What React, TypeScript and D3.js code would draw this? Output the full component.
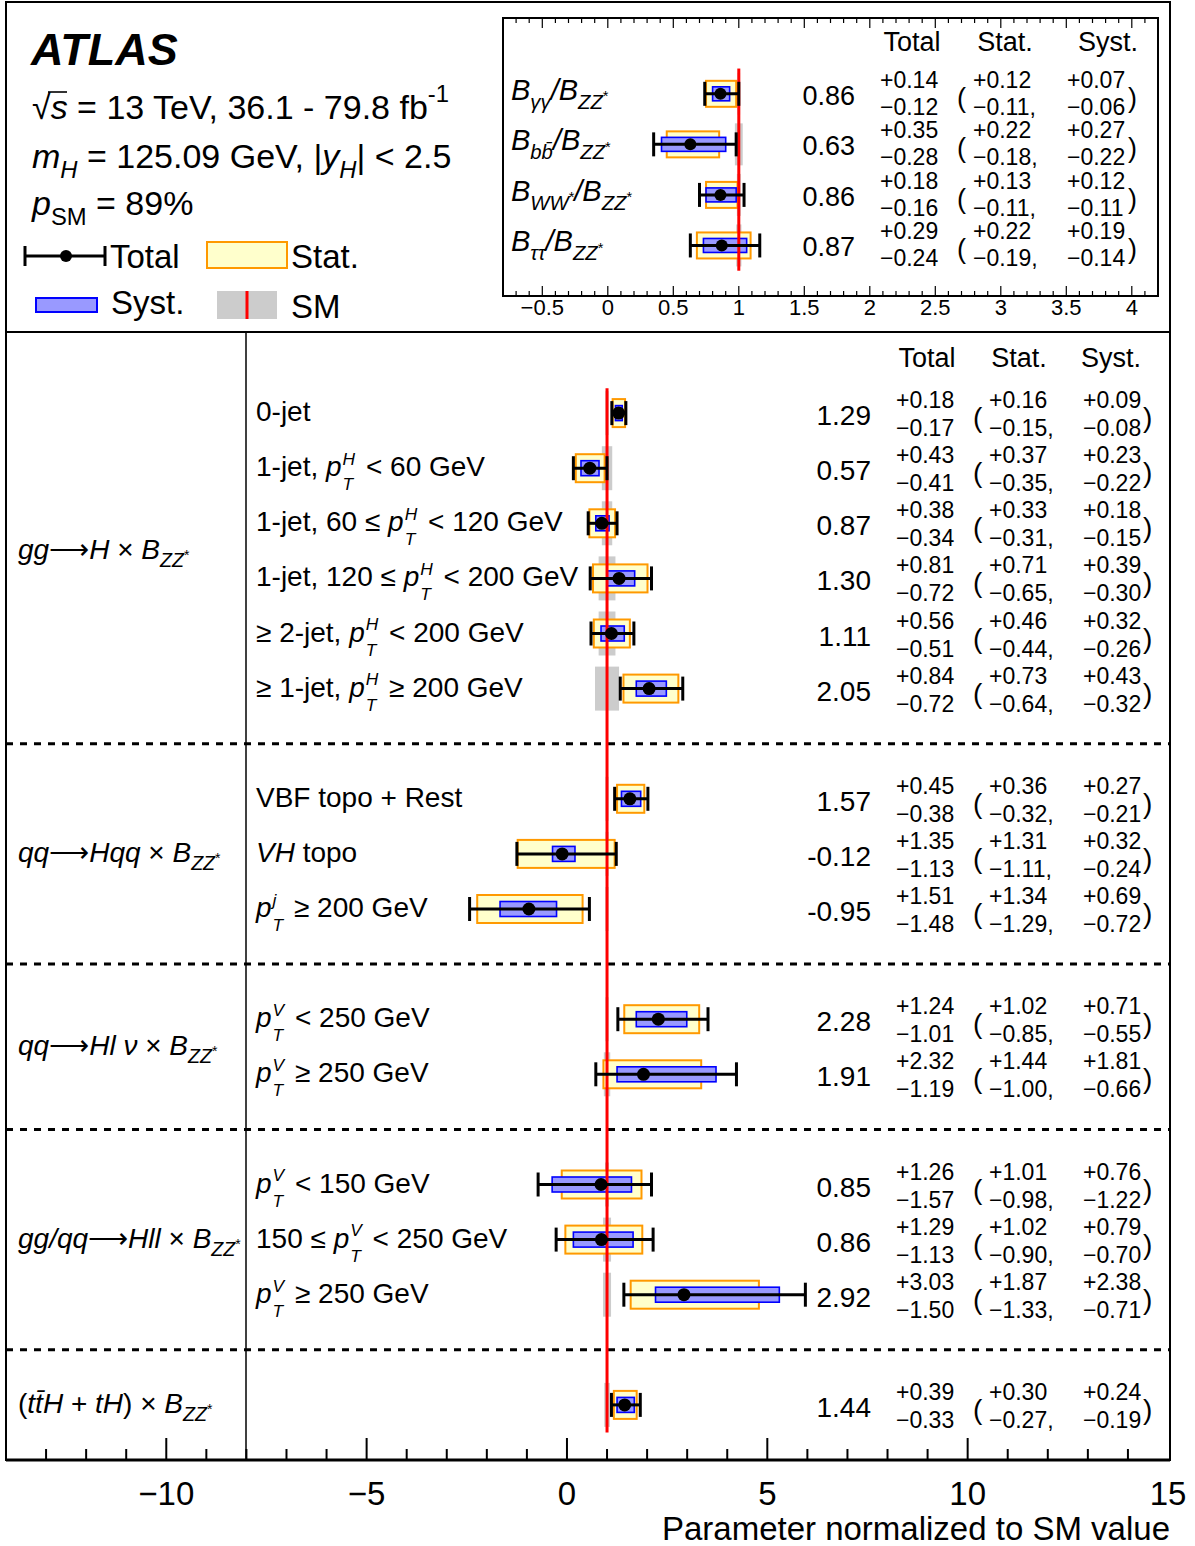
import React from 'react';
import * as d3 from 'd3';

// ---- main panel: production modes x B_ZZ*, normalised to SM ----
const rowLabels = [
  '0-jet',
  '1-jet, $H < 60 GeV',
  '1-jet, 60 ≤ $H < 120 GeV',
  '1-jet, 120 ≤ $H < 200 GeV',
  '≥ 2-jet, $H < 200 GeV',
  '≥ 1-jet, $H ≥ 200 GeV',
  'VBF topo + Rest',
  '~VH~ topo',
  '$j ≥ 200 GeV',
  '$V < 250 GeV',
  '$V ≥ 250 GeV',
  '$V < 150 GeV',
  '150 ≤ $V < 250 GeV',
  '$V ≥ 250 GeV',
  '',
];
const rowSlots = [1, 2, 3, 4, 5, 6, 8, 9, 10, 12, 13, 15, 16, 17, 19];
const centralValue = [1.29, 0.57, 0.87, 1.3, 1.11, 2.05, 1.57, -0.12, -0.95, 2.28, 1.91, 0.85, 0.86, 2.92, 1.44];
const totalUp = [0.18, 0.43, 0.38, 0.81, 0.56, 0.84, 0.45, 1.35, 1.51, 1.24, 2.32, 1.26, 1.29, 3.03, 0.39];
const totalDown = [0.17, 0.41, 0.34, 0.72, 0.51, 0.72, 0.38, 1.13, 1.48, 1.01, 1.19, 1.57, 1.13, 1.5, 0.33];
const statUp = [0.16, 0.37, 0.33, 0.71, 0.46, 0.73, 0.36, 1.31, 1.34, 1.02, 1.44, 1.01, 1.02, 1.87, 0.3];
const statDown = [0.15, 0.35, 0.31, 0.65, 0.44, 0.64, 0.32, 1.11, 1.29, 0.85, 1.0, 0.98, 0.9, 1.33, 0.27];
const systUp = [0.09, 0.23, 0.18, 0.39, 0.32, 0.43, 0.27, 0.32, 0.69, 0.71, 1.81, 0.76, 0.79, 2.38, 0.24];
const systDown = [0.08, 0.22, 0.15, 0.3, 0.26, 0.32, 0.21, 0.24, 0.72, 0.55, 0.66, 1.22, 0.7, 0.71, 0.19];
const smUnc = [0.04, 0.13, 0.13, 0.21, 0.21, 0.3, 0.04, 0.04, 0.04, 0.04, 0.08, 0.05, 0.1, 0.1, 0.07];

const groupLabels = [
  '~gg~⟶~H~ × ~B_{ZZ*}~',
  '~qq~⟶~Hqq~ × ~B_{ZZ*}~',
  '~qq~⟶~Hl ν~ × ~B_{ZZ*}~',
  '~gg/qq~⟶~Hll~ × ~B_{ZZ*}~',
  '(~tt\u0304H~ + ~tH~) × ~B_{ZZ*}~',
];
const groupSlots = [3.5, 9, 12.5, 16, 19];
const separatorSlots = [7, 11, 14, 18];
const mainTickLabels = [-10, -5, 0, 5, 10, 15];

// ---- inset: branching-ratio ratios ----
const ratioLabels = ['~B_{γγ}/B_{ZZ*}~', '~B_{bb\u0304}/B_{ZZ*}~', '~B_{WW*}/B_{ZZ*}~', '~B_{ττ}/B_{ZZ*}~'];
const ratioValue = [0.86, 0.63, 0.86, 0.87];
const ratioTotUp = [0.14, 0.35, 0.18, 0.29];
const ratioTotDown = [0.12, 0.28, 0.16, 0.24];
const ratioStatUp = [0.12, 0.22, 0.13, 0.22];
const ratioStatDown = [0.11, 0.18, 0.11, 0.19];
const ratioSystUp = [0.07, 0.27, 0.12, 0.19];
const ratioSystDown = [0.06, 0.22, 0.11, 0.14];
const ratioSmUnc = [0.01, 0.03, 0.015, 0.02];

const infoLines = ['√~s~ = 13 TeV, 36.1 - 79.8 fb^{-1}', '~m_{H}~ = 125.09 GeV, |~y_{H}~| < 2.5', '~p~_{SM} = 89%'];

const FONT = "'Liberation Sans', Arial, Helvetica, sans-serif";
const YELLOW = '#ffffcc';
const ORANGE = '#ff9900';
const BLUEFILL = '#9999ff';
const BLUE = '#0000ff';
const GREY = '#cccccc';
const RED = '#ff0000';
const glyphW: Record<string, number> = { H: 0.722, V: 0.667, j: 0.222, T: 0.611 };

// tiny markup -> tspans: ~ toggles italic, _{..} sub, ^{..} sup, $X stacked p_T^X
function rich(str: string, fs: number) {
  const parts = str.split(/(_\{[^}]*\}|\^\{[^}]*\}|\$[HVj]|~)/).filter((s) => s !== '');
  const out: React.ReactNode[] = [];
  let italic = false;
  let cur = 0;
  let pend = 0;
  const span = (text: string, off: number, size: number, it: boolean, dx = 0) => {
    const d = dx + pend;
    out.push(
      <tspan key={out.length} dx={d || undefined} dy={off - cur || undefined} fontSize={size} fontStyle={it ? 'italic' : 'normal'}>
        {text}
      </tspan>
    );
    pend = 0;
    cur = off;
  };
  for (const p of parts) {
    if (p === '~') {
      italic = !italic;
      continue;
    }
    if (p[0] === '_' || p[0] === '^') {
      let inner = p.slice(2, -1);
      const off = p[0] === '_' ? fs * 0.3 : -fs * 0.5;
      const star = inner.endsWith('*');
      if (star) inner = inner.slice(0, -1);
      span(inner, off, fs * 0.7, italic);
      if (star) span('*', off - fs * 0.25, fs * 0.5, false);
      continue;
    }
    if (p[0] === '$') {
      const s = p[1];
      const sf = fs * 0.62;
      span('p', 0, fs, true);
      span(s, -fs * 0.4, sf, true, 1);
      span('T', fs * 0.5, sf, true, -glyphW[s] * sf);
      pend = Math.max(0, (glyphW[s] - glyphW.T) * sf) + 3;
      continue;
    }
    span(p, 0, fs, italic);
  }
  return out;
}

interface Meas {
  v: number;
  y: number;
  tu: number;
  td: number;
  su: number;
  sd: number;
  yu: number;
  yd: number;
  sm: number;
}
interface Dims {
  grey: number;
  stat: number;
  syst: number;
  cap: number;
  r: number;
}

function Markers({ x, rows, d, redTop, redBottom }: { x: d3.ScaleLinear<number, number>; rows: Meas[]; d: Dims; redTop: number; redBottom: number }) {
  return (
    <g>
      {rows.map((m, i) => (
        <rect key={'g' + i} x={x(1 - m.sm)} width={x(1 + m.sm) - x(1 - m.sm)} y={m.y - d.grey} height={2 * d.grey} fill={GREY} />
      ))}
      {rows.map((m, i) => (
        <rect key={'s' + i} x={x(m.v - m.sd)} width={x(m.v + m.su) - x(m.v - m.sd)} y={m.y - d.stat} height={2 * d.stat} fill={YELLOW} stroke={ORANGE} strokeWidth={2} />
      ))}
      {rows.map((m, i) => (
        <rect key={'y' + i} x={x(m.v - m.yd)} width={x(m.v + m.yu) - x(m.v - m.yd)} y={m.y - d.syst} height={2 * d.syst} fill={BLUEFILL} stroke={BLUE} strokeWidth={1.6} />
      ))}
      <line x1={x(1)} x2={x(1)} y1={redTop} y2={redBottom} stroke={RED} strokeWidth={3} />
      {rows.map((m, i) => {
        const lo = x(m.v - m.td);
        const hi = x(m.v + m.tu);
        return (
          <g key={'t' + i} stroke="#000" strokeWidth={3}>
            <line x1={lo} x2={hi} y1={m.y} y2={m.y} />
            <line x1={lo} x2={lo} y1={m.y - d.cap} y2={m.y + d.cap} />
            <line x1={hi} x2={hi} y1={m.y - d.cap} y2={m.y + d.cap} />
            <circle cx={x(m.v)} cy={m.y} r={d.r} fill="#000" stroke="none" />
          </g>
        );
      })}
    </g>
  );
}

interface Cols {
  val: number;
  tot: number;
  lp: number;
  stat: number;
  syst: number;
  rp: number;
  fsVal: number;
  fsErr: number;
  upDy: number;
  dnDy: number;
  valDy: number;
}

function Numbers({ rows, c }: { rows: Meas[]; c: Cols }) {
  const f = (n: number) => n.toFixed(2);
  return (
    <g fontFamily={FONT} fill="#000">
      {rows.map((m, i) => (
        <g key={i}>
          <text x={c.val} y={m.y + c.valDy} fontSize={c.fsVal} textAnchor="end">
            {f(m.v)}
          </text>
          <text x={c.tot} y={m.y + c.upDy} fontSize={c.fsErr}>{'+' + f(m.tu)}</text>
          <text x={c.tot} y={m.y + c.dnDy} fontSize={c.fsErr}>{'\u2212' + f(m.td)}</text>
          <text x={c.lp} y={m.y + c.valDy + 2} fontSize={c.fsVal}>(</text>
          <text x={c.stat} y={m.y + c.upDy} fontSize={c.fsErr}>{'+' + f(m.su)}</text>
          <text x={c.stat} y={m.y + c.dnDy} fontSize={c.fsErr}>{'\u2212' + f(m.sd) + ','}</text>
          <text x={c.syst} y={m.y + c.upDy} fontSize={c.fsErr}>{'+' + f(m.yu)}</text>
          <text x={c.syst} y={m.y + c.dnDy} fontSize={c.fsErr}>{'\u2212' + f(m.yd)}</text>
          <text x={c.rp} y={m.y + c.valDy + 2} fontSize={c.fsVal}>)</text>
        </g>
      ))}
    </g>
  );
}

const App: React.FC = () => {
  const width = 1195;
  const height = 1546;

  const mx = d3.scaleLinear().domain([-14, 15]).range([6, 1168]);
  const my = d3.scaleLinear().domain([0, 20]).range([358, 1460]);
  const ix = d3.scaleLinear().domain([-0.8, 4.2]).range([503, 1158]);
  const iy = d3.scaleLinear().domain([-1.5, 4]).range([18, 296]);

  const mainRows: Meas[] = centralValue.map((v, i) => ({
    v,
    y: my(rowSlots[i]),
    tu: totalUp[i],
    td: totalDown[i],
    su: statUp[i],
    sd: statDown[i],
    yu: systUp[i],
    yd: systDown[i],
    sm: smUnc[i],
  }));
  const ratioRows: Meas[] = ratioValue.map((v, i) => ({
    v,
    y: iy(i),
    tu: ratioTotUp[i],
    td: ratioTotDown[i],
    su: ratioStatUp[i],
    sd: ratioStatDown[i],
    yu: ratioSystUp[i],
    yd: ratioSystDown[i],
    sm: ratioSmUnc[i],
  }));

  const axisY = my(20);
  const minorTicks = mx.ticks(30).filter((t) => t > -14 && t < 15);
  const insetTicks = ix.ticks(50).filter((t) => t > -0.8 && t < 4.2);
  const insetMajor = ix.ticks(10);

  return (
    <svg width={width} height={height} style={{ position: 'absolute', left: 0, top: 0, background: '#fff' }} fontFamily={FONT}>
      <rect x={0} y={0} width={width} height={height} fill="#fff" />

      {/* ---------- header info + legend ---------- */}
      <text x={31} y={65} fontSize={45} fontWeight="bold" fontStyle="italic">
        ATLAS
      </text>
      {infoLines.map((l, i) => (
        <text key={i} x={32} y={[119, 168, 215][i]} fontSize={34}>
          {rich(l, 34)}
        </text>
      ))}
      <line x1={48} x2={67} y1={92} y2={92} stroke="#000" strokeWidth={1.6} />

      <g stroke="#000" strokeWidth={3}>
        <line x1={25} x2={105} y1={256} y2={256} />
        <line x1={25} x2={25} y1={246} y2={266} />
        <line x1={105} x2={105} y1={246} y2={266} />
      </g>
      <circle cx={66} cy={256} r={6} fill="#000" />
      <text x={110} y={268} fontSize={33}>Total</text>
      <rect x={207} y={242} width={80} height={26} fill={YELLOW} stroke={ORANGE} strokeWidth={2} />
      <text x={291} y={268} fontSize={33}>Stat.</text>
      <rect x={36} y={298} width={61} height={14} fill={BLUEFILL} stroke={BLUE} strokeWidth={2} />
      <text x={111} y={314} fontSize={33}>Syst.</text>
      <rect x={217} y={291} width={60} height={28} fill={GREY} />
      <line x1={247} x2={247} y1={291} y2={319} stroke={RED} strokeWidth={3} />
      <text x={291} y={318} fontSize={33}>SM</text>

      {/* ---------- inset ---------- */}
      <g stroke="#000" strokeWidth={1.2}>
        {insetTicks.map((t, i) => {
          const major = insetMajor.some((m) => Math.abs(m - t) < 1e-6);
          const len = major ? 10 : 5;
          return (
            <g key={i}>
              <line x1={ix(t)} x2={ix(t)} y1={iy(-1.5)} y2={iy(-1.5) + len} />
              <line x1={ix(t)} x2={ix(t)} y1={iy(4)} y2={iy(4) - len} />
            </g>
          );
        })}
      </g>
      <rect x={ix(-0.8)} y={iy(-1.5)} width={ix(4.2) - ix(-0.8)} height={iy(4) - iy(-1.5)} fill="none" stroke="#000" strokeWidth={2} />
      {insetMajor.map((t) => (
        <text key={t} x={ix(t)} y={315} fontSize={22} textAnchor="middle">
          {t < 0 ? '\u2212' + Math.abs(t) : String(t)}
        </text>
      ))}
      <Markers x={ix} rows={ratioRows} d={{ grey: 21, stat: 13, syst: 7, cap: 12, r: 6 }} redTop={iy(-0.5)} redBottom={iy(3.5)} />
      {ratioLabels.map((l, i) => (
        <text key={i} x={511} y={iy(i) + 6} fontSize={29}>
          {rich(l, 29)}
        </text>
      ))}
      <g fontSize={27} textAnchor="middle">
        <text x={912} y={51}>Total</text>
        <text x={1005} y={51}>Stat.</text>
        <text x={1108} y={51}>Syst.</text>
      </g>
      <Numbers
        rows={ratioRows}
        c={{ val: 855, tot: 880, lp: 957, stat: 973, syst: 1067, rp: 1128, fsVal: 27, fsErr: 23, upDy: -6, dnDy: 21, valDy: 11 }}
      />

      {/* ---------- main panel ---------- */}
      {separatorSlots.map((s) => (
        <line key={s} x1={6} x2={1170} y1={my(s)} y2={my(s)} stroke="#000" strokeWidth={3} strokeDasharray="7 7" />
      ))}
      <Markers x={mx} rows={mainRows} d={{ grey: 22, stat: 14, syst: 7.5, cap: 12, r: 6.5 }} redTop={my(0.55)} redBottom={my(19.5)} />
      {rowLabels.map((l, i) => (
        <text key={i} x={256} y={my(rowSlots[i]) + 8} fontSize={28}>
          {rich(l, 28)}
        </text>
      ))}
      {groupLabels.map((l, i) => (
        <text key={i} x={18} y={my(groupSlots[i]) + 8} fontSize={28}>
          {rich(l, 28)}
        </text>
      ))}
      <g fontSize={27} textAnchor="middle">
        <text x={927} y={my(0) + 9}>Total</text>
        <text x={1019} y={my(0) + 9}>Stat.</text>
        <text x={1111} y={my(0) + 9}>Syst.</text>
      </g>
      <Numbers
        rows={mainRows}
        c={{ val: 871, tot: 896, lp: 973, stat: 989, syst: 1083, rp: 1143, fsVal: 28, fsErr: 23, upDy: -5, dnDy: 23, valDy: 12 }}
      />

      {/* frame and axis */}
      <rect x={6} y={2} width={1164} height={axisY - 2} fill="none" stroke="#000" strokeWidth={2} />
      <line x1={6} x2={1170} y1={332} y2={332} stroke="#000" strokeWidth={2} />
      <line x1={246} x2={246} y1={332} y2={axisY} stroke="#000" strokeWidth={1.5} />
      <g stroke="#000" strokeWidth={2}>
        {minorTicks.map((t) => (
          <line key={t} x1={mx(t)} x2={mx(t)} y1={axisY} y2={axisY - (t % 5 === 0 ? 22 : 11)} />
        ))}
      </g>
      <line x1={6} x2={1170} y1={axisY} y2={axisY} stroke="#000" strokeWidth={3} />
      {mainTickLabels.map((t) => (
        <text key={t} x={mx(t)} y={1505} fontSize={33} textAnchor="middle">
          {t < 0 ? '\u2212' + Math.abs(t) : String(t)}
        </text>
      ))}
      <text x={1170} y={1540} fontSize={33} textAnchor="end">
        Parameter normalized to SM value
      </text>
    </svg>
  );
};

export default App;
